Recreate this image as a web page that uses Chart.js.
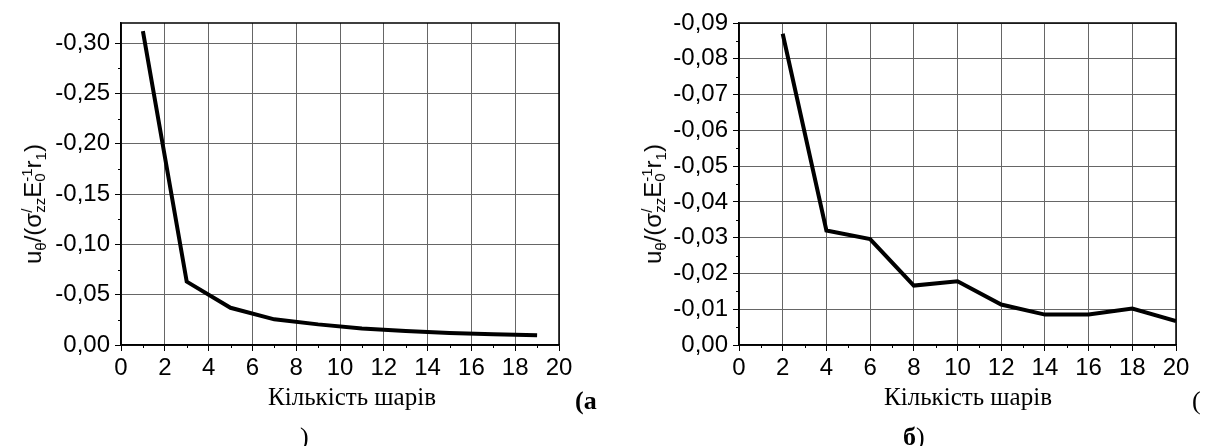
<!DOCTYPE html>
<html>
<head>
<meta charset="utf-8">
<script src="https://cdn.jsdelivr.net/npm/chart.js@4.4.0/dist/chart.umd.min.js"></script>
<style>
  body { margin: 0; background: #fff; width: 1205px; height: 446px; overflow: hidden; position: relative; }
  canvas { position: absolute; top: 0; }
  .ytitle { position: absolute; transform: translate(-50%, -50%) rotate(-90deg); white-space: nowrap;
            font-family: "Liberation Sans", Arial, sans-serif; font-size: 24px; color: #000; line-height: 1; }
  .ytitle sub { font-size: 15px; vertical-align: -5px; }
  .ss { display: inline-flex; flex-direction: column; font-size: 15px; line-height: 13px; vertical-align: 9px; }
  .xtitle { position: absolute; transform: translateX(-50%); white-space: nowrap;
            font-family: "Liberation Serif", "Times New Roman", serif; font-size: 25px; line-height: 25px; color: #000; }
  .cap { position: absolute; white-space: nowrap; font-family: "Liberation Serif", "Times New Roman", serif;
         font-size: 26px; line-height: 26px; color: #000; }
  b { font-weight: bold; }
</style>
</head>
<body>
<canvas id="chartA" width="600" height="446" style="left:0"></canvas>
<canvas id="chartB" width="605" height="446" style="left:600px"></canvas>

<div class="ytitle" style="left:34px; top:204px">u<sub>θ</sub>/(σ<span class="ss"><span>/</span><span>zz</span></span>E<span class="ss"><span>-1</span><span>0</span></span>r<sub>1</sub>)</div>
<div class="ytitle" style="left:654px; top:204px">u<sub>θ</sub>/(σ<span class="ss"><span>/</span><span>zz</span></span>E<span class="ss"><span>-1</span><span>0</span></span>r<sub>1</sub>)</div>

<div class="xtitle" style="left:352px; top:384px">Кількість шарів</div>
<div class="xtitle" style="left:968px; top:384px">Кількість шарів</div>

<div class="cap" style="left:575px; top:388px"><b>(а</b></div>
<div class="cap" style="left:300px; top:424px">)</div>
<div class="cap" style="left:1192px; top:388px">(</div>
<div class="cap" style="left:903px; top:424px"><b>б</b>)</div>

<script>
'use strict';

// (а) odd number of layers
const layersA = [1, 3, 5, 7, 9, 11, 13, 15, 17, 19];
const valuesA = [-0.312, -0.063, -0.037, -0.0255, -0.0205, -0.0165, -0.014, -0.012, -0.0108, -0.0096];

// (б) even number of layers
const layersB = [2, 4, 6, 8, 10, 12, 14, 16, 18, 20];
const valuesB = [-0.087, -0.032, -0.0296, -0.0166, -0.0178, -0.0113, -0.0085, -0.0085, -0.0102, -0.0067];

const xTicks = [0, 2, 4, 6, 8, 10, 12, 14, 16, 18, 20];
const xMinor = [1, 3, 5, 7, 9, 11, 13, 15, 17, 19];

const yTicksA = [0, -0.05, -0.10, -0.15, -0.20, -0.25, -0.30];
const yMinorA = [-0.025, -0.075, -0.125, -0.175, -0.225, -0.275];

const yTicksB = [0, -0.01, -0.02, -0.03, -0.04, -0.05, -0.06, -0.07, -0.08, -0.09];
const yMinorB = [-0.005, -0.015, -0.025, -0.035, -0.045, -0.055, -0.065, -0.075, -0.085];

// frame on top/right + small minor ticks
const framePlugin = {
  id: 'frame',
  afterDraw(chart, args, opts) {
    const ctx = chart.ctx;
    const a = chart.chartArea;
    ctx.save();
    ctx.strokeStyle = '#000';
    ctx.lineWidth = 1.5;
    ctx.strokeRect(a.left, a.top, a.right - a.left, a.bottom - a.top);
    ctx.lineWidth = 1;
    ctx.beginPath();
    opts.xMinor.forEach(v => {
      const x = Math.round(chart.scales.x.getPixelForValue(v)) + 0.5;
      ctx.moveTo(x, a.bottom);
      ctx.lineTo(x, a.bottom + 3);
    });
    opts.yMinor.forEach(v => {
      const y = Math.round(chart.scales.y.getPixelForValue(v)) + 0.5;
      ctx.moveTo(a.left, y);
      ctx.lineTo(a.left - 3, y);
    });
    ctx.stroke();
    ctx.restore();
  }
};

function makeChart(id, xs, ys, yMin, yTicks, yMinor, yWidth, rightPad) {
  const ctx = document.getElementById(id).getContext('2d');
  return new Chart(ctx, {
    type: 'line',
    data: {
      datasets: [{
        data: xs.map((x, i) => ({ x: x, y: ys[i] })),
        borderColor: '#000',
        borderWidth: 4,
        pointRadius: 0,
        tension: 0,
        fill: false
      }]
    },
    options: {
      responsive: false,
      animation: false,
      devicePixelRatio: 1,
      layout: { padding: { left: 0, top: 23, right: rightPad, bottom: 61 } },
      plugins: {
        legend: { display: false },
        tooltip: { enabled: false },
        frame: { xMinor: xMinor, yMinor: yMinor }
      },
      scales: {
        x: {
          type: 'linear',
          min: 0,
          max: 20,
          afterBuildTicks: s => { s.ticks = xTicks.map(v => ({ value: v })); },
          afterFit: s => { s.height = 40; },
          ticks: {
            autoSkip: false,
            maxRotation: 0,
            color: '#000',
            padding: 3,
            font: { family: '"Liberation Sans", Arial, sans-serif', size: 24 }
          },
          grid: { color: '#666', tickColor: '#000', tickLength: 6, lineWidth: 1 },
          border: { color: '#000', width: 1.5 }
        },
        y: {
          type: 'linear',
          min: yMin,
          max: 0,
          reverse: true,
          afterBuildTicks: s => { s.ticks = yTicks.map(v => ({ value: v })); },
          afterFit: s => { s.width = yWidth; },
          ticks: {
            autoSkip: false,
            color: '#000',
            padding: 5,
            font: { family: '"Liberation Sans", Arial, sans-serif', size: 24 },
            callback: v => v.toFixed(2).replace('.', ',')
          },
          grid: { color: '#666', tickColor: '#000', tickLength: 6, lineWidth: 1 },
          border: { color: '#000', width: 1.5 }
        }
      }
    },
    plugins: [framePlugin]
  });
}

makeChart('chartA', layersA, valuesA, -0.32, yTicksA, yMinorA, 121, 41);
makeChart('chartB', layersB, valuesB, -0.09, yTicksB, yMinorB, 139, 29);
</script>
</body>
</html>
